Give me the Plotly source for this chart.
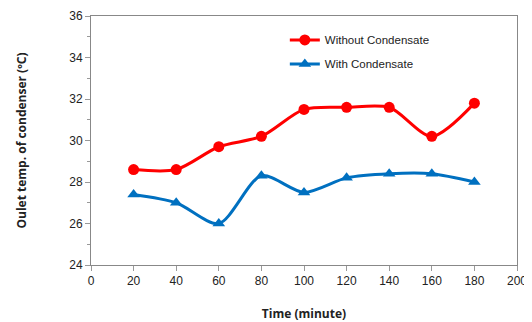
import plotly.graph_objects as go

time_min = [20, 40, 60, 80, 100, 120, 140, 160, 180]
without_condensate = [28.6, 28.6, 29.7, 30.2, 31.5, 31.6, 31.6, 30.2, 31.8]
with_condensate = [27.4, 27.0, 26.0, 28.3, 27.5, 28.2, 28.4, 28.4, 28.0]
x_ticks = list(range(0, 201, 20))
y_ticks = list(range(24, 37, 2))

font_family = "Liberation Sans Narrow, Liberation Sans, Arial, sans-serif"

fig = go.Figure()
fig.add_trace(go.Scatter(
    x=time_min, y=without_condensate, name="Without Condensate", legendgroup="a",
    mode="lines+markers", line=dict(color="#FF0000", width=3, shape="spline", smoothing=0.8),
    marker=dict(symbol="circle", size=11, color="#FF0000"),
))
fig.add_trace(go.Scatter(
    x=time_min, y=with_condensate, name="With Condensate", legendgroup="b",
    mode="lines+markers", line=dict(color="#0070C0", width=3, shape="spline", smoothing=0.8),
    marker=dict(symbol="triangle-up", size=11, color="#0070C0"),
))

fig.update_layout(
    width=524, height=314,
    margin=dict(l=83, r=15, t=8, b=57),
    paper_bgcolor="white", plot_bgcolor="white",
    font=dict(family=font_family, size=12, color="#222222"),
    showlegend=True,
    legend=dict(x=0.455, y=0.962, xanchor="left", yanchor="top",
                bgcolor="rgba(0,0,0,0)", font=dict(size=11.5, family=font_family),
                tracegroupgap=5, itemwidth=30),
)
fig.update_xaxes(
    range=[0, 200], tickvals=x_ticks, ticks="outside", ticklen=5, tickcolor="#999999",
    showline=True, linecolor="#888888", linewidth=1, mirror=True, showgrid=False, zeroline=False,
    automargin=False,
    title=dict(text="<b>Time (minute)</b>", font=dict(size=12, family="Open Sans, sans-serif"), standoff=22),
    tickfont=dict(size=12),
)
fig.update_yaxes(
    range=[24, 36], tickvals=y_ticks, ticks="outside", ticklen=5, tickcolor="#999999",
    minor=dict(dtick=1, ticks="outside", ticklen=3, tickcolor="#999999"),
    showline=True, linecolor="#888888", linewidth=1, mirror=True, showgrid=False, zeroline=False,
    automargin=False,
    title=dict(text="<b>Oulet temp. of condenser (ºC)</b>", font=dict(size=12, family="Open Sans, sans-serif"), standoff=40),
    tickfont=dict(size=12),
)

fig.write_html("out.html")
